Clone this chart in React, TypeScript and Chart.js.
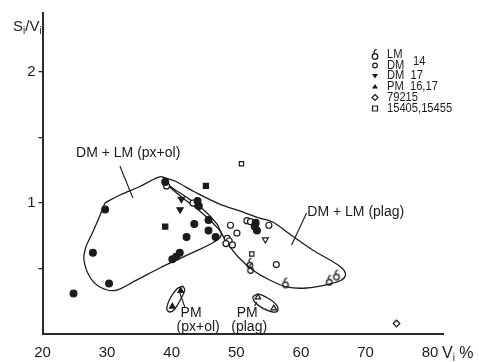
import React, { useEffect, useRef } from 'react';
import { Chart, registerables } from 'chart.js';

Chart.register(...registerables);

const FONT = '"Liberation Sans", Arial, sans-serif';
const INK = '#1b1b1b';

// ---- point data (V_i %, S_i/V_i) ----
const filledCircles = [
  { x: 29.7, y: 0.95 }, { x: 27.8, y: 0.62 }, { x: 30.3, y: 0.385 }, { x: 24.8, y: 0.31 },
  { x: 44.0, y: 1.015 }, { x: 44.2, y: 0.977 }, { x: 43.5, y: 0.84 }, { x: 45.7, y: 0.87 },
  { x: 45.7, y: 0.79 }, { x: 42.3, y: 0.74 }, { x: 46.8, y: 0.74 }, { x: 41.25, y: 0.62 },
  { x: 40.7, y: 0.59 }, { x: 40.1, y: 0.57 }, { x: 39.0, y: 1.16 }, { x: 53.0, y: 0.85 },
  { x: 52.85, y: 0.82 }, { x: 53.2, y: 0.79 },
];
const filledSquares = [{ x: 45.3, y: 1.13 }, { x: 39.0, y: 0.82 }];
const filledDownTriangles = [{ x: 41.5, y: 1.03 }, { x: 41.3, y: 0.95 }];
const pmPxOl = [{ x: 41.4, y: 0.33 }, { x: 40.1, y: 0.21 }];
const dm14 = [
  { x: 39.2, y: 1.13 }, { x: 43.3, y: 1.0 }, { x: 49.1, y: 0.83 }, { x: 50.1, y: 0.77 },
  { x: 48.6, y: 0.73 }, { x: 48.9, y: 0.71 }, { x: 48.4, y: 0.69 }, { x: 49.4, y: 0.68 },
  { x: 51.65, y: 0.865 }, { x: 52.2, y: 0.857 }, { x: 55.05, y: 0.83 }, { x: 56.2, y: 0.53 },
];
const lm14 = [
  { x: 52.1, y: 0.54 }, { x: 52.2, y: 0.5 }, { x: 57.6, y: 0.39 }, { x: 64.4, y: 0.41 }, { x: 65.5, y: 0.45 },
];
const dm17 = [{ x: 54.5, y: 0.72 }];
const pm1617 = [{ x: 53.35, y: 0.28 }, { x: 55.8, y: 0.196 }];
const s79215 = [{ x: 74.8, y: 0.08 }];
const s15405 = [{ x: 50.8, y: 1.3 }, { x: 52.4, y: 0.61 }];

// ---- envelopes ----
const envPxOl = [
  [29.66, 1.0], [31.98, 1.061], [35.07, 1.126], [37.7, 1.191], [38.62, 1.198], [39.4, 1.137],
  [41.72, 1.038], [44.34, 0.939], [46.4, 0.845], [47.7, 0.765], [46.82, 0.71], [42.8, 0.611],
  [38.16, 0.504], [34.3, 0.405], [31.21, 0.332], [28.89, 0.359], [27.34, 0.435], [26.41, 0.565],
  [26.72, 0.664], [27.65, 0.763], [28.73, 0.885], [29.66, 1.0],
];
const envPlag = [
  [38.62, 1.198], [40.48, 1.168], [43.57, 1.084], [47.43, 0.992], [50.53, 0.939], [53.62, 0.885],
  [55.63, 0.855], [58.25, 0.763], [61.81, 0.641], [65.98, 0.519], [66.91, 0.458], [66.29, 0.412],
  [64.44, 0.382], [60.88, 0.351], [57.79, 0.359], [55.16, 0.412], [52.53, 0.489], [50.3, 0.588],
  [48.6, 0.695], [47.6, 0.779], [47.0, 0.84], [44.8, 0.954], [42.02, 1.053], [39.71, 1.13],
  [38.62, 1.198],
];
const envPmPxOl = [
  [41.72, 0.366], [42.02, 0.336], [41.41, 0.267], [40.48, 0.191], [39.71, 0.168], [39.24, 0.191],
  [39.71, 0.267], [40.79, 0.344], [41.72, 0.366],
];
const envPmPlag = [
  [52.53, 0.282], [53.31, 0.305], [54.85, 0.275], [56.24, 0.221], [56.4, 0.176], [55.63, 0.168],
  [54.08, 0.198], [52.84, 0.244], [52.53, 0.282],
];
const leaders = [
  [[31.98, 1.282], [33.99, 1.038]],
  [[60.88, 0.924], [58.56, 0.679]],
  [[41.25, 0.315], [42.02, 0.206]],
  [[52.84, 0.214], [53.15, 0.244]],
];

// ---- text ----
const xTicks = [20, 30, 40, 50, 60, 70, 80];
const yTicks = [0.5, 1, 1.5, 2];
const yLabelled = [1, 2];
const fieldLabels = [
  { text: 'DM + LM (px+ol)', x: 25.2, y: 1.382, align: 'left' },
  { text: 'DM + LM (plag)', x: 61.0, y: 0.931, align: 'left' },
  { text: 'PM', x: 43.0, y: 0.16, align: 'center' },
  { text: '(px+ol)', x: 44.1, y: 0.053, align: 'center' },
  { text: 'PM', x: 51.7, y: 0.16, align: 'center' },
  { text: '(plag)', x: 52.0, y: 0.053, align: 'center' },
];
const legendRows = ['LM', 'DM', 'DM  17', 'PM  16,17', '79215', '15405,15455'];
const legendShared = '14';

const pts = (a: number[][]) => a.map(([x, y]) => ({ x, y }));

function makeLM(): HTMLCanvasElement {
  const c = document.createElement('canvas');
  c.width = 10; c.height = 13;
  const g = c.getContext('2d')!;
  g.strokeStyle = INK; g.lineWidth = 1.3;
  g.beginPath(); g.arc(5, 8.5, 2.8, 0, Math.PI * 2); g.stroke();
  g.beginPath(); g.moveTo(5, 5.7); g.quadraticCurveTo(2.5, 3.5, 6.5, 1.2); g.stroke();
  return c;
}

export default function App() {
  const ref = useRef<HTMLCanvasElement>(null);
  useEffect(() => {
    document.body.style.margin = '0';
    const lm = makeLM();
    const line = (data: number[][], w = 1.3) => ({
      data: pts(data), showLine: true, tension: 0.35, pointRadius: 0, borderColor: INK,
      borderWidth: w, fill: false, order: 2,
    });
    const pointSet = (data: any[], style: any, filled: boolean, r: number, extra: any = {}) => ({
      data, showLine: false, pointStyle: style, pointRadius: r, pointBorderWidth: 1.2,
      pointBackgroundColor: filled ? INK : '#ffffff', pointBorderColor: INK, order: 0, ...extra,
    });

    const textPlugin = {
      id: 'texts',
      afterDraw(chart: any) {
        const ctx = chart.ctx as CanvasRenderingContext2D;
        const xs = chart.scales.x, ys = chart.scales.y;
        const txt = (t: string, x: number, y: number, size: number, align: CanvasTextAlign, hs = 1) => {
          ctx.save();
          ctx.translate(x, y);
          ctx.scale(hs, 1);
          ctx.font = `${size}px ${FONT}`;
          ctx.textAlign = align;
          ctx.fillText(t, 0, 0);
          ctx.restore();
        };
        ctx.save();
        ctx.fillStyle = INK;
        ctx.textBaseline = 'middle';
        for (const l of fieldLabels) {
          txt(l.text, xs.getPixelForValue(l.x), ys.getPixelForValue(l.y), 14, l.align as CanvasTextAlign, 1);
        }
        // axis titles
        ctx.textBaseline = 'alphabetic';
        const sub = (parts: [string, boolean][], x0: number, y0: number, big: number) => {
          let x = x0;
          for (const [t, s] of parts) {
            ctx.font = s ? `10px ${FONT}` : `${big}px ${FONT}`;
            ctx.textAlign = 'left';
            ctx.fillText(t, x, s ? y0 + 3 : y0);
            x += ctx.measureText(t).width;
          }
        };
        sub([['S', false], ['i', true], ['/V', false], ['i', true]], 13, 31, 15);
        sub([['V', false], ['i', true], [' %', false]], 442, 358, 16);
        // legend
        const lx = 375, rowY = [55, 65.5, 76, 86.5, 97.5, 108.5];
        ctx.textBaseline = 'middle';
        ctx.lineWidth = 1.2;
        ctx.strokeStyle = INK;
        legendRows.forEach((t, i) => {
          const y = rowY[i];
          ctx.fillStyle = INK;
          txt(t, 387, y, 12, 'left', 0.93);
          ctx.beginPath();
          if (i === 0) {
            ctx.drawImage(lm, lx - 5, y - 7);
          } else if (i === 1) {
            ctx.arc(lx, y, 2.3, 0, Math.PI * 2); ctx.stroke();
          } else if (i === 2) {
            ctx.moveTo(lx - 3, y - 2); ctx.lineTo(lx + 3, y - 2); ctx.lineTo(lx, y + 2.5); ctx.closePath(); ctx.fill();
          } else if (i === 3) {
            ctx.moveTo(lx - 3, y + 2); ctx.lineTo(lx + 3, y + 2); ctx.lineTo(lx, y - 2.5); ctx.closePath(); ctx.fill();
          } else if (i === 4) {
            ctx.moveTo(lx, y - 3); ctx.lineTo(lx + 3, y); ctx.lineTo(lx, y + 3); ctx.lineTo(lx - 3, y); ctx.closePath(); ctx.stroke();
          } else {
            ctx.rect(lx - 2.5, y - 2.5, 5, 5); ctx.stroke();
          }
        });
        txt(legendShared, 413, 62, 12, 'left', 0.93);
        ctx.restore();
      },
    };

    const chart = new Chart(ref.current!, {
      type: 'scatter',
      data: {
        datasets: [
          pointSet(filledCircles, 'circle', true, 3.4),
          pointSet(filledSquares, 'rect', true, 3.6),
          pointSet(filledDownTriangles, 'triangle', true, 3.6, { rotation: 180 }),
          pointSet(pmPxOl, 'triangle', true, 3.2),
          pointSet(dm14, 'circle', false, 3.0),
          pointSet(lm14, lm, false, 4),
          pointSet(dm17, 'triangle', false, 3.4, { rotation: 180 }),
          pointSet(pm1617, 'triangle', false, 3.2),
          pointSet(s79215, 'rectRot', false, 3.3),
          pointSet(s15405, 'rect', false, 3.0),
          line(envPxOl),
          line(envPlag),
          line(envPmPxOl),
          line(envPmPlag),
          ...leaders.map((l) => ({ ...line(l, 1.1), tension: 0 })),
        ] as any,
      },
      options: {
        responsive: false,
        animation: false,
        events: [],
        layout: { padding: { top: 13, right: 36, left: 0, bottom: 0 } },
        plugins: { legend: { display: false }, tooltip: { enabled: false } },
        scales: {
          x: {
            type: 'linear', min: 20, max: 82,
            afterBuildTicks: (s: any) => { s.ticks = xTicks.map((v) => ({ value: v })); },
            afterFit: (s: any) => { s.height = 28; },
            ticks: { font: { family: FONT, size: 15 }, color: INK, padding: 10, callback: (v: any) => String(v) },
            grid: { display: false, drawTicks: false },
            border: { display: true, color: '#2a2a2a', width: 2 },
          },
          y: {
            type: 'linear', min: 0, max: 2.45,
            afterBuildTicks: (s: any) => { s.ticks = yTicks.map((v) => ({ value: v })); },
            afterFit: (s: any) => { s.width = 42.5; },
            ticks: {
              font: { family: FONT, size: 15 }, color: INK, padding: 3,
              callback: (v: any) => (yLabelled.includes(v) ? String(v) : ''),
            },
            grid: { display: true, drawOnChartArea: false, drawTicks: true, tickLength: 4, color: '#2a2a2a', lineWidth: 1.3 },
            border: { display: true, color: '#2a2a2a', width: 2 },
          },
        },
      } as any,
      plugins: [textPlugin],
    });
    return () => chart.destroy();
  }, []);
  return (
    <div style={{ width: 479, height: 362, background: '#fff' }}>
      <canvas ref={ref} width={479} height={362} />
    </div>
  );
}
